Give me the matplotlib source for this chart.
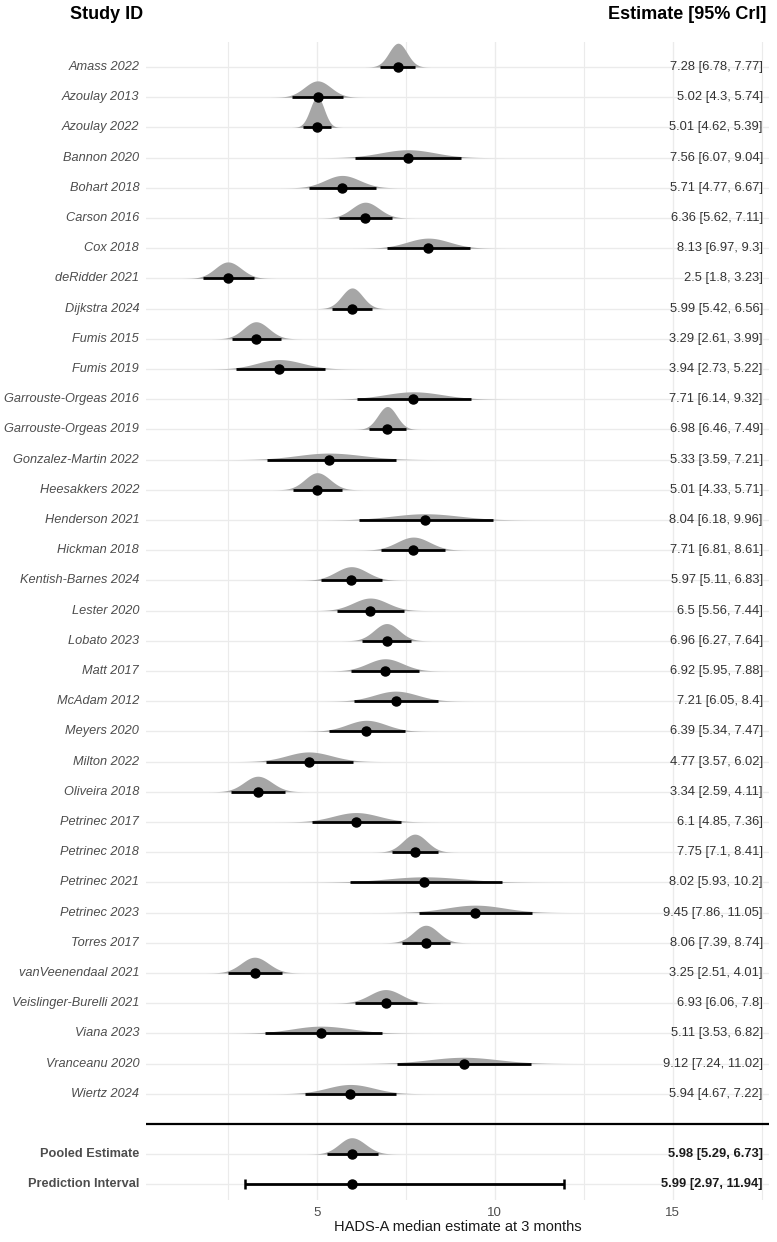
import numpy as np
import matplotlib
matplotlib.use("Agg")
import matplotlib.pyplot as plt

plt.rcParams['font.family'] = ['Liberation Sans', 'DejaVu Sans']

studies = ["Amass 2022", "Azoulay 2013", "Azoulay 2022", "Bannon 2020", "Bohart 2018",
           "Carson 2016", "Cox 2018", "deRidder 2021", "Dijkstra 2024", "Fumis 2015",
           "Fumis 2019", "Garrouste-Orgeas 2016", "Garrouste-Orgeas 2019",
           "Gonzalez-Martin 2022", "Heesakkers 2022", "Henderson 2021", "Hickman 2018",
           "Kentish-Barnes 2024", "Lester 2020", "Lobato 2023", "Matt 2017", "McAdam 2012",
           "Meyers 2020", "Milton 2022", "Oliveira 2018", "Petrinec 2017", "Petrinec 2018",
           "Petrinec 2021", "Petrinec 2023", "Torres 2017", "vanVeenendaal 2021",
           "Veislinger-Burelli 2021", "Viana 2023", "Vranceanu 2020", "Wiertz 2024"]
est = [7.28, 5.02, 5.01, 7.56, 5.71, 6.36, 8.13, 2.5, 5.99, 3.29, 3.94, 7.71, 6.98, 5.33,
       5.01, 8.04, 7.71, 5.97, 6.5, 6.96, 6.92, 7.21, 6.39, 4.77, 3.34, 6.1, 7.75, 8.02,
       9.45, 8.06, 3.25, 6.93, 5.11, 9.12, 5.94]
lo = [6.78, 4.3, 4.62, 6.07, 4.77, 5.62, 6.97, 1.8, 5.42, 2.61, 2.73, 6.14, 6.46, 3.59,
      4.33, 6.18, 6.81, 5.11, 5.56, 6.27, 5.95, 6.05, 5.34, 3.57, 2.59, 4.85, 7.1, 5.93,
      7.86, 7.39, 2.51, 6.06, 3.53, 7.24, 4.67]
hi = [7.77, 5.74, 5.39, 9.04, 6.67, 7.11, 9.3, 3.23, 6.56, 3.99, 5.22, 9.32, 7.49, 7.21,
      5.71, 9.96, 8.61, 6.83, 7.44, 7.64, 7.88, 8.4, 7.47, 6.02, 4.11, 7.36, 8.41, 10.2,
      11.05, 8.74, 4.01, 7.8, 6.82, 11.02, 7.22]

pooled = [5.98, 5.29, 6.73]
prediction = [5.99, 2.97, 11.94]

fill_col = "#a6a6a6"
grid_col = "#ebebeb"
text_col = "#4d4d4d"
dens_scale = 0.5


def split_normal(x, m, l, h):
    s1 = max((m - l) / 1.96, 1e-3)
    s2 = max((h - m) / 1.96, 1e-3)
    s = np.where(x < m, s1, s2)
    return 2 / (np.sqrt(2 * np.pi) * (s1 + s2)) * np.exp(-0.5 * ((x - m) / s) ** 2)


def draw_row(ax, y, m, l, h, dens=True):
    if dens:
        s1 = (m - l) / 1.96
        s2 = (h - m) / 1.96
        xs = np.linspace(m - 3.6 * s1, m + 3.6 * s2, 300)
        d = split_normal(xs, m, l, h) * dens_scale
        ax.fill_between(xs, y, y - d, color=fill_col, lw=0, zorder=2)
    ax.plot([l, h], [y, y], color="black", lw=2.0, solid_capstyle="butt", zorder=3)
    ax.plot(m, y, "o", color="black", ms=6.5, zorder=4)


fig = plt.figure(figsize=(7.77, 12.42), dpi=100)
ax = fig.add_axes([146 / 777, 1 - 1200 / 1242, 623 / 777, 1158 / 1242])

n = len(studies)
y_sep = n
y_pool = n + 1
y_pred = n + 2

for y in list(range(n)) + [y_pool, y_pred]:
    ax.axhline(y, color=grid_col, lw=1.0, zorder=0)

for i in range(n):
    draw_row(ax, i, est[i], lo[i], hi[i])

draw_row(ax, y_pool, *pooled)
ax.errorbar(prediction[0], y_pred,
            xerr=[[prediction[0] - prediction[1]], [prediction[2] - prediction[0]]],
            fmt="o", color="black", ms=6.5, elinewidth=2.0, capsize=3.5, capthick=1.8,
            zorder=4)

ax.axhline(y_sep, color="black", lw=1.6, zorder=3)

ax.set_xlim(0.2, 17.7)
ax.set_ylim(37.52, -0.83)
ax.set_xticks([5, 10, 15])
ax.set_xticks([2.5, 7.5, 12.5, 17.5], minor=True)
ax.set_yticks([])
ax.grid(axis="x", which="major", color=grid_col, lw=1.0, zorder=0)
ax.grid(axis="x", which="minor", color=grid_col, lw=0.8, zorder=0)
ax.set_axisbelow(True)
ax.tick_params(axis="x", which="both", length=0, labelsize=9.5, labelcolor=text_col, pad=5)
for sp in ax.spines.values():
    sp.set_visible(False)
ax.set_xlabel("HADS-A median estimate at 3 months", fontsize=10.5, color="#1a1a1a",
              labelpad=1)

tr = ax.get_yaxis_transform()
for i in range(n):
    ax.text(-0.011, i, studies[i], transform=tr, ha="right", va="center",
            fontsize=9.2, style="italic", color=text_col)
    ax.text(0.990, i, f"{est[i]:g} [{lo[i]:g}, {hi[i]:g}]", transform=tr,
            ha="right", va="center", fontsize=9.3, color="#333333")

ax.text(-0.011, y_pool, "Pooled Estimate", transform=tr, ha="right", va="center",
        fontsize=9.2, fontweight="bold", color=text_col)
ax.text(-0.011, y_pred, "Prediction Interval", transform=tr, ha="right", va="center",
        fontsize=9.2, fontweight="bold", color=text_col)
ax.text(0.990, y_pool, f"{pooled[0]:g} [{pooled[1]:g}, {pooled[2]:g}]", transform=tr,
        ha="right", va="center", fontsize=9.3, fontweight="bold", color="#1a1a1a")
ax.text(0.990, y_pred, f"{prediction[0]:g} [{prediction[1]:g}, {prediction[2]:g}]",
        transform=tr, ha="right", va="center", fontsize=9.3, fontweight="bold",
        color="#1a1a1a")

fig.text(143 / 777, 1 - 19 / 1242, "Study ID", ha="right", va="baseline",
         fontsize=13, fontweight="bold", color="black")
fig.text(766 / 777, 1 - 19 / 1242, "Estimate [95% CrI]", ha="right", va="baseline",
         fontsize=13, fontweight="bold", color="black")

fig.savefig("out.png", dpi=100)
